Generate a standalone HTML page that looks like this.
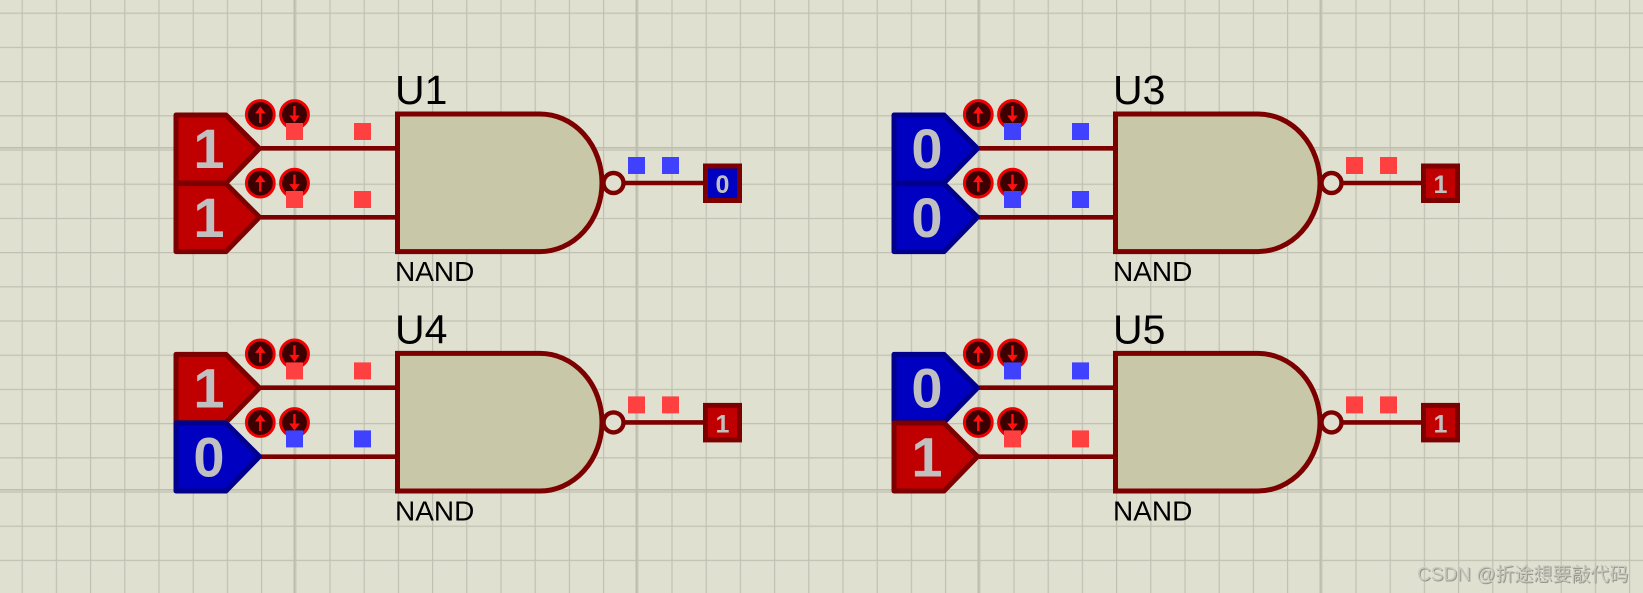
<!DOCTYPE html>
<html><head><meta charset="utf-8"><style>
html,body{margin:0;padding:0;background:#dfe0d0}
svg{display:block}
text{font-family:"Liberation Sans","Noto Sans CJK SC",sans-serif}
</style></head><body>
<svg xmlns="http://www.w3.org/2000/svg" width="1643" height="593" viewBox="0 0 1643 593">
<defs>
<pattern id="g" patternUnits="userSpaceOnUse" x="21.6" y="12.6" width="34.2" height="34.2"><path d="M0.6 0V34.2M0 0.6H34.2" stroke="#c0c1b2" stroke-width="1.2" fill="none"/></pattern>
<path id="pent" d="M176 115H226L259.5 148.5L226 183H176Z" stroke-width="5" stroke-linejoin="round"/>
<g id="btns">
<circle cx="260.3" cy="114.5" r="13.9" fill="#3c0000" stroke="#f00000" stroke-width="3"/>
<circle cx="294.5" cy="114.5" r="13.9" fill="#3c0000" stroke="#f00000" stroke-width="3"/>
<path d="M260.3 123V111" stroke="#ff1010" stroke-width="2.4" fill="none"/>
<path d="M255 113.5L260.3 106.5L265.6 113.5Z" fill="#ff1010"/>
<path d="M294.5 106V118" stroke="#ff1010" stroke-width="2.4" fill="none"/>
<path d="M289.2 115.5L294.5 122.5L299.8 115.5Z" fill="#ff1010"/>
</g>
<g id="gate">
<path d="M261 148.3H398M261 217.3H398M625 183H705" stroke="#7c0000" stroke-width="4.6" fill="none"/>
<path d="M397.5 114H540A62 68.8 0 0 1 540 251.6H397.5Z" fill="#c8c8a8" stroke="#7c0000" stroke-width="5"/>
<circle cx="613.5" cy="183" r="10" fill="#dfe0d0" stroke="#7c0000" stroke-width="4.4"/>
</g>
</defs>
<rect width="1643" height="593" fill="#dfe0d0"/>
<rect width="1643" height="593" fill="url(#g)"/>
<path d="M294.3 0V593M636.3 0V593M978.3 0V593M1320.3 0V593M0 147.8H1643M0 489.8H1643" stroke="#bdbeae" stroke-width="1.6" fill="none"/>

<!-- U1 -->
<g>
<use href="#gate"/>
<use href="#pent" fill="#c00000" stroke="#7c0000"/>
<use href="#pent" y="68.6" fill="#c00000" stroke="#7c0000"/>
<use href="#btns"/><use href="#btns" y="68.6"/>
<rect x="286" y="123" width="17" height="17" fill="#ff4040"/><rect x="354" y="123" width="17" height="17" fill="#ff4040"/>
<rect x="286" y="191" width="17" height="17" fill="#ff4040"/><rect x="354" y="191" width="17" height="17" fill="#ff4040"/>
<rect x="628" y="157" width="17" height="17" fill="#4040ff"/><rect x="662" y="157" width="17" height="17" fill="#4040ff"/>
<rect x="705.5" y="166" width="34" height="34.5" fill="#0000c0" stroke="#7c0000" stroke-width="5"/>
<text x="209" y="168" font-size="56" font-weight="bold" fill="#c0c0c0" text-anchor="middle">1</text>
<text x="209" y="237" font-size="56" font-weight="bold" fill="#c0c0c0" text-anchor="middle">1</text>
<text x="722.5" y="193" font-size="25" font-weight="bold" fill="#c0c0c0" text-anchor="middle">0</text>
<text x="395" y="104" font-size="41" fill="#000">U1</text>
<text x="395" y="281" font-size="28" fill="#000">NAND</text>
</g>

<!-- U3 -->
<g transform="translate(718,0)">
<use href="#gate"/>
<use href="#pent" fill="#0000c0" stroke="#00008c"/>
<use href="#pent" y="68.6" fill="#0000c0" stroke="#00008c"/>
<use href="#btns"/><use href="#btns" y="68.6"/>
<rect x="286" y="123" width="17" height="17" fill="#4040ff"/><rect x="354" y="123" width="17" height="17" fill="#4040ff"/>
<rect x="286" y="191" width="17" height="17" fill="#4040ff"/><rect x="354" y="191" width="17" height="17" fill="#4040ff"/>
<rect x="628" y="157" width="17" height="17" fill="#ff4040"/><rect x="662" y="157" width="17" height="17" fill="#ff4040"/>
<rect x="705.5" y="166" width="34" height="34.5" fill="#c00000" stroke="#7c0000" stroke-width="5"/>
<text x="209" y="168" font-size="56" font-weight="bold" fill="#c0c0c0" text-anchor="middle">0</text>
<text x="209" y="237" font-size="56" font-weight="bold" fill="#c0c0c0" text-anchor="middle">0</text>
<text x="722.5" y="193" font-size="25" font-weight="bold" fill="#c0c0c0" text-anchor="middle">1</text>
<text x="395" y="104" font-size="41" fill="#000">U3</text>
<text x="395" y="281" font-size="28" fill="#000">NAND</text>
</g>

<!-- U4 -->
<g transform="translate(0,239.4)">
<use href="#gate"/>
<use href="#pent" fill="#c00000" stroke="#7c0000"/>
<use href="#pent" y="68.6" fill="#0000c0" stroke="#00008c"/>
<use href="#btns"/><use href="#btns" y="68.6"/>
<rect x="286" y="123" width="17" height="17" fill="#ff4040"/><rect x="354" y="123" width="17" height="17" fill="#ff4040"/>
<rect x="286" y="191" width="17" height="17" fill="#4040ff"/><rect x="354" y="191" width="17" height="17" fill="#4040ff"/>
<rect x="628" y="157" width="17" height="17" fill="#ff4040"/><rect x="662" y="157" width="17" height="17" fill="#ff4040"/>
<rect x="705.5" y="166" width="34" height="34.5" fill="#c00000" stroke="#7c0000" stroke-width="5"/>
<text x="209" y="168" font-size="56" font-weight="bold" fill="#c0c0c0" text-anchor="middle">1</text>
<text x="209" y="237" font-size="56" font-weight="bold" fill="#c0c0c0" text-anchor="middle">0</text>
<text x="722.5" y="193" font-size="25" font-weight="bold" fill="#c0c0c0" text-anchor="middle">1</text>
<text x="395" y="104" font-size="41" fill="#000">U4</text>
<text x="395" y="281" font-size="28" fill="#000">NAND</text>
</g>

<!-- U5 -->
<g transform="translate(718,239.4)">
<use href="#gate"/>
<use href="#pent" fill="#0000c0" stroke="#00008c"/>
<use href="#pent" y="68.6" fill="#c00000" stroke="#7c0000"/>
<use href="#btns"/><use href="#btns" y="68.6"/>
<rect x="286" y="123" width="17" height="17" fill="#4040ff"/><rect x="354" y="123" width="17" height="17" fill="#4040ff"/>
<rect x="286" y="191" width="17" height="17" fill="#ff4040"/><rect x="354" y="191" width="17" height="17" fill="#ff4040"/>
<rect x="628" y="157" width="17" height="17" fill="#ff4040"/><rect x="662" y="157" width="17" height="17" fill="#ff4040"/>
<rect x="705.5" y="166" width="34" height="34.5" fill="#c00000" stroke="#7c0000" stroke-width="5"/>
<text x="209" y="168" font-size="56" font-weight="bold" fill="#c0c0c0" text-anchor="middle">0</text>
<text x="209" y="237" font-size="56" font-weight="bold" fill="#c0c0c0" text-anchor="middle">1</text>
<text x="722.5" y="193" font-size="25" font-weight="bold" fill="#c0c0c0" text-anchor="middle">1</text>
<text x="395" y="104" font-size="41" fill="#000">U5</text>
<text x="395" y="281" font-size="28" fill="#000">NAND</text>
</g>

<text x="1418" y="581.5" font-size="19" fill="#85857c" fill-opacity="0.8">CSDN @折途想要敲代码</text>
<text x="1417" y="580.5" font-size="19" fill="#c8c8bf">CSDN @折途想要敲代码</text>
</svg>
</body></html>
